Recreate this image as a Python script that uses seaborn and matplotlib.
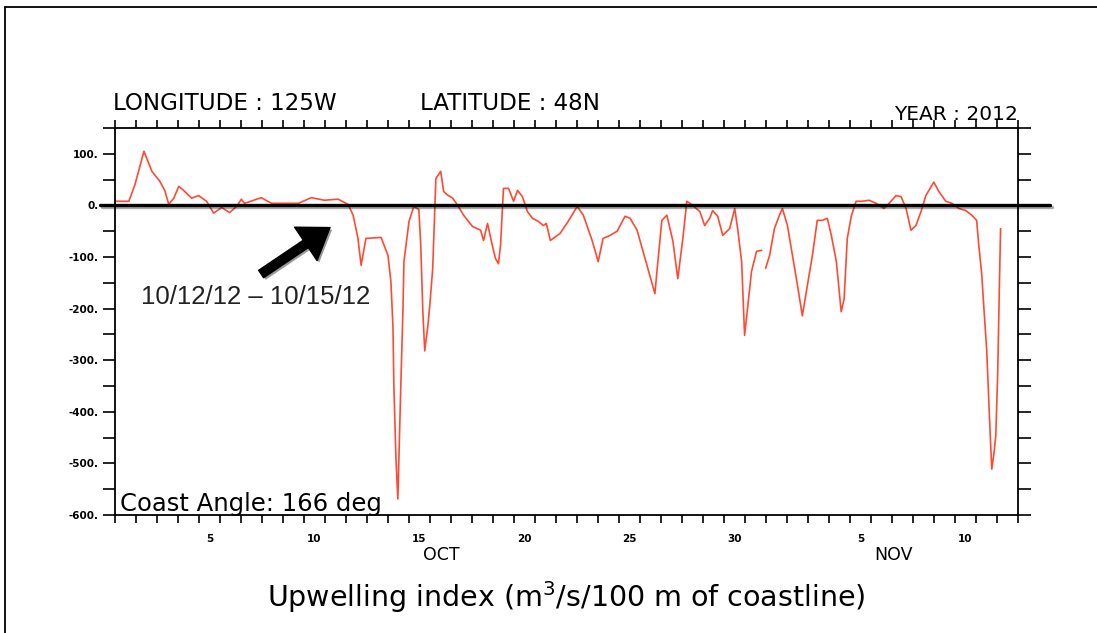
import numpy as np
import pandas as pd
import matplotlib
matplotlib.use("Agg")
import matplotlib.pyplot as plt
import matplotlib.patheffects as pe
from matplotlib.ticker import FixedLocator, MultipleLocator
import seaborn as sns

# days since 1 Oct 2012 00Z, upwelling index
days_a = [0.0, 0.66, 0.95, 1.38, 1.76, 2.13, 2.37, 2.56, 2.80, 3.04, 3.27, 3.65, 3.98,
          4.36, 4.70, 5.08, 5.46, 5.79, 6.02, 6.17, 6.97, 7.45, 7.92, 8.73, 9.35, 9.96,
          10.63, 11.10, 11.34, 11.57, 11.72, 11.95, 12.67, 13.00, 13.14, 13.24, 13.28,
          13.38, 13.47, 13.52, 13.61, 13.71, 13.76, 14.00, 14.23, 14.47, 14.56, 14.66,
          14.75, 14.90, 14.99, 15.13, 15.28, 15.51, 15.65, 15.84, 16.08, 16.32, 16.60,
          17.03, 17.41, 17.55, 17.74, 17.98, 18.12, 18.26, 18.36, 18.50, 18.74, 18.98,
          19.17, 19.40, 19.64, 19.88, 20.16, 20.40, 20.54, 20.73, 21.20, 21.58, 22.01,
          22.30, 22.72, 23.01, 23.24, 23.58, 23.91, 24.29, 24.53, 24.86, 25.33, 25.71,
          25.85, 26.04, 26.28, 26.57, 26.80, 27.04, 27.23, 27.51, 27.85, 28.08, 28.32,
          28.46, 28.70, 28.94, 29.27, 29.51, 29.65, 29.84, 29.98, 30.12, 30.31, 30.55,
          30.79]
index_a = [8, 8, 40, 105, 66, 47, 29, 2, 14, 37, 29, 14, 19, 8, -15, -4, -14, -2, 12,
           4, 15, 4, 4, 4, 15, 10, 12, 2, -19, -64, -116, -64, -62, -97, -148, -239,
           -350, -491, -569, -491, -350, -206, -109, -31, -2, -8, -77, -206, -282, -233,
           -194, -122, 52, 66, 27, 20, 14, 0, -19, -41, -48, -68, -35, -80, -103, -113,
           -77, 33, 33, 8, 29, 17, -12, -25, -31, -39, -35, -68, -54, -31, -2, -19, -68,
           -109, -64, -58, -50, -21, -25, -48, -116, -171, -109, -29, -19, -70, -142,
           -64, 8, 0, -12, -39, -25, -10, -21, -58, -45, -6, -45, -109, -252, -200,
           -128, -89, -87]

days_b = [30.98, 31.17, 31.40, 31.64, 31.78, 32.02, 32.26, 32.50, 32.73, 32.97, 33.21,
          33.44, 33.68, 33.92, 34.11, 34.35, 34.58, 34.72, 34.87, 35.06, 35.29, 35.58,
          35.91, 36.24, 36.62, 36.95, 37.19, 37.43, 37.67, 37.90, 38.14, 38.38, 38.61,
          38.99, 39.23, 39.56, 39.85, 40.18, 40.51, 40.80, 41.03, 41.13, 41.27, 41.37,
          41.51, 41.60, 41.70, 41.75, 41.84, 41.94, 42.03, 42.12, 42.17]
index_b = [-122, -97, -45, -19, -6, -39, -97, -155, -214, -155, -97, -29, -29, -25, -58,
           -109, -206, -181, -64, -21, 8, 8, 10, 4, -6, 8, 19, 17, -6, -48, -39, -12, 19,
           45, 27, 8, 4, -6, -10, -19, -29, -77, -132, -196, -281, -371, -466, -511,
           -485, -447, -330, -142, -45]

label_pos = [4.5, 9.5, 14.5, 19.5, 24.5, 29.5, 35.5, 40.5]
label_txt = ["5", "10", "15", "20", "25", "30", "5", "10"]
y_major = [-600, -500, -400, -300, -200, -100, 0, 100]

df = pd.concat([
    pd.DataFrame({"day": days_a, "index": index_a, "seg": 0}),
    pd.DataFrame({"day": days_b, "index": index_b, "seg": 1}),
])

sns.set_style("ticks")
plt.rcParams["font.family"] = ["DejaVu Sans"]
plt.rcParams["text.color"] = "black"
plt.rcParams["xtick.color"] = "black"
plt.rcParams["ytick.color"] = "black"

fig = plt.figure(figsize=(10.97, 6.33), dpi=100)
ax = fig.add_axes([0.1048, 0.1864, 0.8232, 0.6114])

sns.lineplot(data=df, x="day", y="index", units="seg", estimator=None, sort=False,
             color="#ff4a33", lw=1.2, ax=ax, legend=False)

ax.set_xlim(0, 43)
ax.set_ylim(-600, 150)
ax.set_xlabel("")
ax.set_ylabel("")

for s in ax.spines.values():
    s.set_linewidth(1.3)
    s.set_color("black")

ax.xaxis.set_major_locator(FixedLocator(label_pos))
ax.set_xticklabels(label_txt)
ax.xaxis.set_minor_locator(MultipleLocator(1))
ax.tick_params(axis="x", which="major", length=0, pad=14, labelsize=7.5)
ax.tick_params(axis="x", which="minor", length=6, width=1.2, direction="out",
               top=True, bottom=True)
for t in ax.get_xticklabels():
    t.set_fontweight("bold")

ax.yaxis.set_major_locator(FixedLocator(y_major))
ax.set_yticklabels([f"{v}." for v in y_major])
ax.yaxis.set_minor_locator(MultipleLocator(50))
ax.tick_params(axis="y", which="both", length=9, width=1.2, direction="out",
               left=True, right=True, labelsize=7.5, pad=3)
for t in ax.get_yticklabels():
    t.set_fontweight("bold")

# thick zero line overlay with shadow
shadow = [pe.SimpleLineShadow(offset=(1.5, -1.5), alpha=0.35), pe.Normal()]
ax.plot([-0.017, 1.035], [0, 0], color="black", lw=2.4, clip_on=False,
        transform=ax.get_yaxis_transform(), path_effects=shadow, zorder=5)

# arrow annotation
ax.annotate("", xy=(10.35, -40), xytext=(6.85, -136),
            arrowprops=dict(arrowstyle="simple,head_width=1.45,head_length=1.05,tail_width=0.32",
                            color="black", mutation_scale=20,
                            path_effects=[pe.SimplePatchShadow(offset=(1.5, -1.5), alpha=0.4),
                                          pe.Normal()]),
            zorder=6)
ax.text(6.7, -177, "10/12/12 \u2013 10/15/12", fontsize=18.5, color="#222222",
        ha="center", va="center", family=["Liberation Sans", "DejaVu Sans"])

ax.text(0.006, 0.028, "Coast Angle: 166 deg", transform=ax.transAxes, fontsize=17.5,
        ha="left", va="center")

fig.text(113 / 1097, 1 - 104 / 633, "LONGITUDE : 125W", fontsize=16.6, ha="left", va="center")
fig.text(420 / 1097, 1 - 104 / 633, "LATITUDE : 48N", fontsize=16.6, ha="left", va="center")
fig.text(1018 / 1097, 1 - 115 / 633, "YEAR : 2012", fontsize=14.5, ha="right", va="center")
fig.text(441 / 1097, 1 - 555 / 633, "OCT", fontsize=12.5, ha="center", va="center")
fig.text(893 / 1097, 1 - 555 / 633, "NOV", fontsize=12.5, ha="center", va="center")
fig.text(566 / 1097, 1 - 597 / 633, "Upwelling index (m$^3$/s/100 m of coastline)",
         fontsize=20.5, ha="center", va="center")

# outer frame of the slide
fig.add_artist(plt.Line2D([5 / 1097, 1.0], [1 - 7 / 633, 1 - 7 / 633], color="black",
                          lw=1.3, transform=fig.transFigure))
fig.add_artist(plt.Line2D([5 / 1097, 5 / 1097], [0, 1 - 7 / 633], color="black",
                          lw=1.3, transform=fig.transFigure))

fig.savefig("out.png", dpi=100)
